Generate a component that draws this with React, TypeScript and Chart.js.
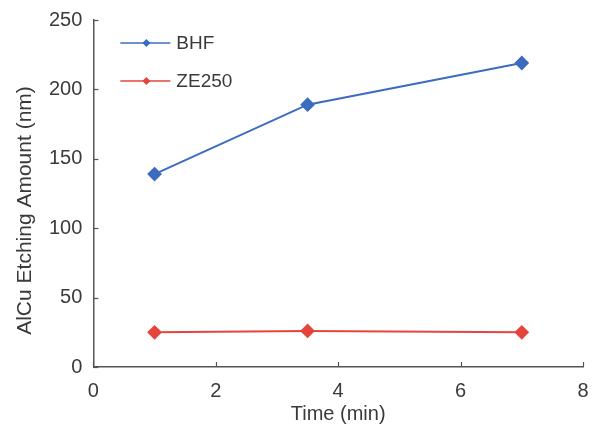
import React, { useEffect, useRef } from "react";
import { Chart, registerables } from "chart.js";

Chart.register(...registerables);

// Etching time (min) and measured AlCu etching amount (nm)
const timeMin = [1, 3.5, 7];
const bhfValues = [139, 189, 219];
const ze250Values = [25, 26, 25];

const seriesNames = ["BHF", "ZE250"];
const seriesColors = ["#3b6cc0", "#e5453d"];

const xTicks = [0, 2, 4, 6, 8];
const yTicks = [0, 50, 100, 150, 200, 250];

const yTitle = "AlCu Etching Amount (nm)";

const FONT = "'Liberation Sans', Arial, sans-serif";
const TEXT = "#3a3a3a";
const AXIS = "#555555";

// Short tick marks drawn inward from the axis lines
const inwardTicks = {
  id: "inwardTicks",
  afterDraw(chart: any) {
    const { ctx, chartArea, scales } = chart;
    ctx.save();
    ctx.strokeStyle = AXIS;
    ctx.lineWidth = 1.2;
    const len = 5;
    for (const v of xTicks) {
      const px = Math.round(scales.x.getPixelForValue(v)) + 0.5;
      ctx.beginPath();
      ctx.moveTo(px, chartArea.bottom);
      ctx.lineTo(px, chartArea.bottom - len);
      ctx.stroke();
    }
    for (const v of yTicks) {
      const py = Math.round(scales.y.getPixelForValue(v)) + 0.5;
      ctx.beginPath();
      ctx.moveTo(chartArea.left, py);
      ctx.lineTo(chartArea.left + len, py);
      ctx.stroke();
    }
    ctx.restore();
  },
};

// Rotated y-axis title, sitting a little below the plot's centre line
const sideTitle = {
  id: "sideTitle",
  afterDraw(chart: any) {
    const { ctx, chartArea } = chart;
    ctx.save();
    ctx.translate(25, (chartArea.top + chartArea.bottom) / 2 + 17);
    ctx.rotate(-Math.PI / 2);
    ctx.fillStyle = TEXT;
    ctx.font = `21px ${FONT}`;
    ctx.textAlign = "center";
    ctx.textBaseline = "middle";
    ctx.fillText(yTitle, 0, 0);
    ctx.restore();
  },
};

// Legend with a line segment through the marker, placed inside the plot
const lineLegend = {
  id: "lineLegend",
  afterDraw(chart: any) {
    const { ctx, chartArea } = chart;
    ctx.save();
    const x0 = chartArea.left + 27;
    const x1 = x0 + 50;
    const y0 = chartArea.top + 23;
    const gap = 38;
    chart.data.datasets.forEach((ds: any, i: number) => {
      const y = y0 + i * gap;
      ctx.strokeStyle = ds.borderColor;
      ctx.lineWidth = 1.5;
      ctx.beginPath();
      ctx.moveTo(x0, y);
      ctx.lineTo(x1, y);
      ctx.stroke();
      const mx = x0 + 26;
      const r = 4;
      ctx.fillStyle = ds.borderColor;
      ctx.beginPath();
      ctx.moveTo(mx, y - r);
      ctx.lineTo(mx + r, y);
      ctx.lineTo(mx, y + r);
      ctx.lineTo(mx - r, y);
      ctx.closePath();
      ctx.fill();
      ctx.fillStyle = TEXT;
      ctx.font = `19px ${FONT}`;
      ctx.textBaseline = "middle";
      ctx.textAlign = "left";
      ctx.fillText(ds.label, x1 + 6, y + 1);
    });
    ctx.restore();
  },
};

export default function App() {
  const canvasRef = useRef<HTMLCanvasElement | null>(null);

  useEffect(() => {
    if (!canvasRef.current) return;
    const chart = new Chart(canvasRef.current, {
      type: "line",
      data: {
        datasets: [
          {
            label: seriesNames[0],
            data: timeMin.map((t, i) => ({ x: t, y: bhfValues[i] })),
            borderColor: seriesColors[0],
            backgroundColor: seriesColors[0],
            borderWidth: 2,
            pointStyle: "rectRot",
            pointRadius: 6,
            pointHoverRadius: 6,
          },
          {
            label: seriesNames[1],
            data: timeMin.map((t, i) => ({ x: t, y: ze250Values[i] })),
            borderColor: seriesColors[1],
            backgroundColor: seriesColors[1],
            borderWidth: 2,
            pointStyle: "rectRot",
            pointRadius: 6,
            pointHoverRadius: 6,
          },
        ],
      },
      options: {
        animation: false,
        responsive: false,
        maintainAspectRatio: false,
        layout: { padding: { top: 20, right: 10, left: 38, bottom: 0 } },
        plugins: {
          legend: { display: false },
          tooltip: { enabled: false },
        },
        scales: {
          x: {
            type: "linear",
            min: 0,
            max: 8,
            afterBuildTicks: (s: any) => {
              s.ticks = xTicks.map((v) => ({ value: v }));
            },
            afterFit: (s: any) => {
              s.paddingRight = 0;
              s.paddingLeft = 0;
            },
            grid: { display: false, drawTicks: false },
            border: { display: true, color: AXIS, width: 1.5 },
            ticks: {
              color: TEXT,
              font: { family: FONT, size: 20 },
              padding: 12,
            },
            title: {
              display: true,
              text: "Time (min)",
              color: TEXT,
              font: { family: FONT, size: 20 },
              padding: { top: -13, bottom: 0 },
            },
          },
          y: {
            min: 0,
            max: 250,
            afterBuildTicks: (s: any) => {
              s.ticks = yTicks.map((v) => ({ value: v }));
            },
            afterFit: (s: any) => {
              s.paddingTop = 0;
            },
            grid: { display: false, drawTicks: false },
            border: { display: true, color: AXIS, width: 1.5 },
            ticks: {
              color: TEXT,
              font: { family: FONT, size: 20 },
              padding: 11,
            },
            title: { display: false },
          },
        },
      },
      plugins: [inwardTicks, sideTitle, lineLegend],
    });
    return () => chart.destroy();
  }, []);

  return (
    <div style={{ position: "fixed", left: 0, top: 0, width: 593, height: 426, background: "#fff" }}>
      <canvas ref={canvasRef} width={593} height={426} />
    </div>
  );
}
